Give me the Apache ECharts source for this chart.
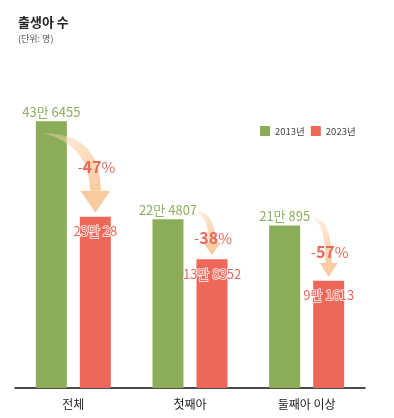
<!DOCTYPE html>
<html><head><meta charset="utf-8">
<script src="https://cdn.jsdelivr.net/npm/echarts@6/dist/echarts.min.js"></script>
<style>html,body{margin:0;padding:0;background:#fff}#c{width:394px;height:418px}</style>
</head><body><div id="c"></div>
<script>
const categories = ['전체', '첫째아', '둘째아 이상'];
const births2013 = [436455, 224807, 210895];
const births2023 = [230028, 138352, 91613];
const changePct = [-47, -38, -57];
const seriesNames = ['2013년', '2023년'];

const BASE = 140000; // visual baseline offset of the original drawing (bars do not start at zero)
const GREEN = '#8bad57', RED = '#ee685a', FONT = 'Noto Sans CJK KR';
const fmt = v => Math.floor(v / 10000) + '만 ' + (v % 10000);

const chart = echarts.init(document.getElementById('c'));
chart.setOption({
  backgroundColor: '#fff',
  animation: false,
  textStyle: { fontFamily: FONT },
  title: {
    text: '출생아 수', subtext: '(단위: 명)', left: 13, top: 11, itemGap: 5,
    textStyle: { fontSize: 13, fontWeight: 'bold', color: '#222', fontFamily: FONT },
    subtextStyle: { fontSize: 9, color: '#555', fontFamily: FONT }
  },
  legend: {
    data: seriesNames, left: 255, top: 121, itemWidth: 10, itemHeight: 10, itemGap: 6,
    icon: 'rect', textStyle: { fontSize: 9.5, color: '#444', fontFamily: FONT }
  },
  grid: { left: 15, right: 29, top: 40, bottom: 30 },
  xAxis: {
    type: 'category', data: categories,
    axisLine: { lineStyle: { color: '#111', width: 1.5 } },
    axisTick: { show: false },
    axisLabel: { fontSize: 12, color: '#222', margin: 10, fontFamily: FONT }
  },
  yAxis: { type: 'value', min: 0, max: 752000, show: false, splitLine: { show: false } },
  series: [
    { name: seriesNames[0], type: 'bar', barWidth: 31, barGap: '42%',
      itemStyle: { color: GREEN }, data: births2013.map(v => v + BASE),
      label: { show: true, position: 'top', distance: 3, fontSize: 13, color: '#8fae5c',
        fontFamily: FONT, formatter: p => fmt(births2013[p.dataIndex]) } },
    { name: seriesNames[1], type: 'bar', barWidth: 31, barGap: '42%',
      itemStyle: { color: RED }, data: births2023.map(v => v + BASE),
      label: { show: true, position: 'insideTop', distance: 8, fontSize: 13, color: '#ec6a5b',
        textBorderColor: 'rgba(255,255,255,0.95)', textBorderWidth: 1.5,
        fontFamily: FONT, formatter: p => fmt(births2023[p.dataIndex]) } },
    { name: '_arrows', type: 'custom', silent: true, z: 5,
      data: categories.map((c, i) => [i, births2013[i], births2023[i], changePct[i]]),
      renderItem: function (params, api) {
        const i = api.value(0), g = api.value(1), r = api.value(2), p = api.value(3);
        const cg = api.coord([i, g + BASE]);
        const cr = api.coord([i, r + BASE]);
        const gx = cg[0] - 22, rx = cg[0] + 22;
        const gy = cg[1], ry = cr[1];
        const d = ry - gy;
        let sx, sy;
        if (d > 70) { sx = gx - 8; sy = gy + 12; } else { sx = gx + 28; sy = gy - 8; }
        const tipY = ry - 4;
        const hh = Math.min(22, Math.max(13, d * 0.25));
        const hw = Math.min(15, Math.max(9, d * 0.16));
        const by = tipY - hh;
        const sw = hw * 0.36;
        const path = 'M' + sx + ' ' + sy +
          ' Q' + (rx + sw) + ' ' + sy + ' ' + (rx + sw) + ' ' + by +
          ' L' + (rx - sw) + ' ' + by +
          ' Q' + (rx - sw) + ' ' + (sy + sw * 2.2) + ' ' + sx + ' ' + sy + ' Z';
        const grad = new echarts.graphic.LinearGradient(sx, sy, rx, by, [
          { offset: 0, color: 'rgba(250,212,175,0.35)' },
          { offset: 1, color: 'rgba(249,203,160,1)' }
        ], true);
        const n = Math.abs(p);
        return {
          type: 'group',
          children: [
            { type: 'path', shape: { pathData: path }, style: { fill: grad } },
            { type: 'polygon', shape: { points: [[rx - hw, by], [rx + hw, by], [rx, tipY]] },
              style: { fill: 'rgb(249,203,160)' } },
            { type: 'text', x: rx + 1, y: ry - 0.52 * d,
              style: {
                text: '{a|-}{b|' + n + '}{a|%}', align: 'center', verticalAlign: 'middle',
                rich: {
                  a: { fontSize: 15, fontWeight: 'normal', fill: '#e8685a', color: '#e8685a', fontFamily: FONT },
                  b: { fontSize: 16, fontWeight: 'bold', fill: '#e8685a', color: '#e8685a', fontFamily: FONT }
                }
              } }
          ]
        };
      } }
  ]
});
</script></body></html>
